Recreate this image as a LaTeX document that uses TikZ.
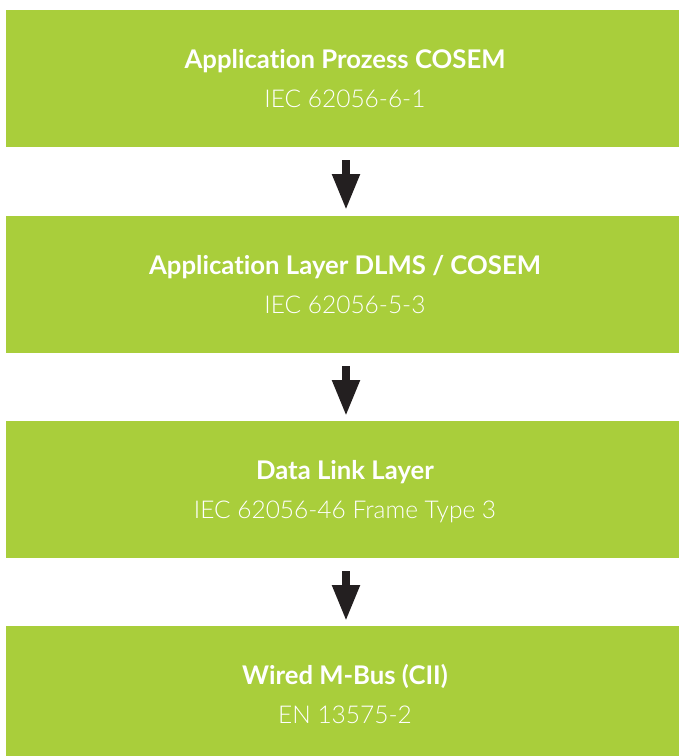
\documentclass[tikz,border=0pt]{standalone}
\usepackage{fontspec}
\setmainfont{Lato}[Ligatures={NoCommon}]
\newfontfamily\sublight{Lato Light}[Ligatures={NoCommon}]
\usetikzlibrary{arrows.meta}
\definecolor{boxgreen}{HTML}{A9CE3B}
\definecolor{arrowdark}{HTML}{231F20}
\begin{document}
\begin{tikzpicture}[x=1pt,y=-1pt,
  layerbox/.style={fill=boxgreen, draw=none, minimum width=673pt, minimum height=137pt, inner sep=0pt, anchor=north west},
  titletext/.style={text=white, font=\fontsize{25.7}{30}\selectfont\bfseries, anchor=base},
  subtext/.style={text=white, font=\sublight\fontsize{24.5}{30}\selectfont, anchor=base},
  flowarrow/.style={draw=arrowdark, line width=8pt, -{Triangle[width=26pt,length=36pt]}}]
\useasboundingbox (0,0) rectangle (679,756);
\node[layerbox] (b1) at (6,10) {};
\node[layerbox] (b2) at (6,216) {};
\node[layerbox] (b3) at (6,421) {};
\node[layerbox, minimum height=140pt] (b4) at (6,626) {};
\node[titletext] (t1) at (345,68) {Application Prozess COSEM};
\node[subtext] (s1) at (345,107) {IEC 62056-6-1};
\node[titletext] (t2) at (345,274) {Application Layer DLMS / COSEM};
\node[subtext] (s2) at (345,313) {IEC 62056-5-3};
\node[titletext] (t3) at (345,479) {Data Link Layer};
\node[subtext] (s3) at (345,518) {IEC 62056-46 Frame Type 3};
\node[titletext] (t4) at (345,684) {Wired M-Bus (CII)};
\node[subtext] (s4) at (345,723) {EN 13575-2};
\coordinate (a1s) at (346,160);
\coordinate (a1e) at (346,210);
\coordinate (a2s) at (346,366);
\coordinate (a2e) at (346,416);
\coordinate (a3s) at (346,571);
\coordinate (a3e) at (346,621);
\draw[flowarrow] (a1s) -- (a1e);
\draw[flowarrow] (a2s) -- (a2e);
\draw[flowarrow] (a3s) -- (a3e);
\end{tikzpicture}
\end{document}
